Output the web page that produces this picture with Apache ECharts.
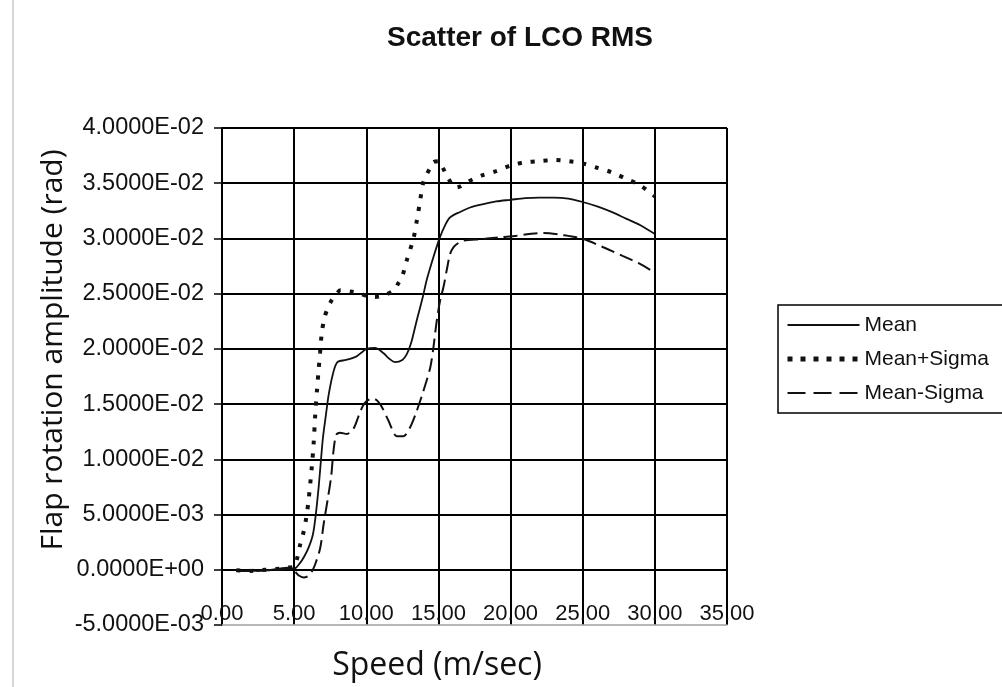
<!DOCTYPE html>
<html>
<head>
<meta charset="utf-8">
<script src="https://cdn.jsdelivr.net/npm/echarts@6/dist/echarts.min.js"></script>
<style>
  html, body { margin: 0; padding: 0; background: #fff; }
  #chart { width: 1002px; height: 687px; }
</style>
</head>
<body>
<div id="chart"></div>
<script>
// Speed (m/sec) and RMS flap rotation amplitude (rad) for each curve
const meanSpeed = [1.0, 2.0, 3.0, 4.0, 4.5, 5.0, 5.4, 5.7, 6.0, 6.3, 6.5, 6.7, 6.85, 7.0, 7.2, 7.4, 7.7, 8.0, 8.6, 9.3,
  9.7, 10.0, 10.6, 11.2, 11.6, 12.0, 12.5, 12.8, 13.1, 13.5, 13.9, 14.2, 14.65, 15.1, 15.5, 15.8, 16.5, 17.2, 18.1, 19.0,
  20, 21, 22, 23, 24, 25, 26, 27, 28, 29, 30];
const meanAmp = [-0.0001, -0.0001, -0.00005, 0.0001, 0.0002, 0.0001, 0.0006, 0.0012, 0.0020, 0.0032,
  0.0050, 0.0075, 0.0098, 0.0120, 0.0140, 0.0159, 0.0178, 0.0188, 0.0190, 0.0193,
  0.0197, 0.0200, 0.0201, 0.0196, 0.0191, 0.0188, 0.0190, 0.0195, 0.0205, 0.0226,
  0.0246, 0.0263, 0.0283, 0.0301, 0.0313, 0.0319, 0.0324, 0.0328, 0.0331, 0.03335,
  0.0335, 0.03365, 0.0337, 0.0337, 0.0336, 0.0333, 0.0329, 0.0324, 0.0318, 0.0312, 0.0304];

const plusSpeed = [1.0, 2.0, 3.0, 4.0, 4.6, 5.0, 5.2, 5.42, 5.65, 5.85, 6.0, 6.23, 6.35, 6.46, 6.58, 6.69, 6.8, 6.92, 7.1, 7.3,
  7.6, 7.9, 8.2, 8.9, 9.6, 10.0, 10.6, 11.1, 11.9, 12.2, 12.5, 12.8, 13.27, 13.5, 13.73, 13.96, 14.43, 14.65, 15.0, 15.3,
  15.7, 16.16, 16.5, 17.0, 18.0, 19.0, 20.0, 21.0, 22.0, 23.0, 24, 25, 26, 27, 28, 29, 30];
const plusAmp = [-0.00005, -0.0001, 0, 0.0001, 0.0002, 0.0003, 0.0010, 0.0023, 0.0034, 0.0048,
  0.0063, 0.0094, 0.0114, 0.0140, 0.0162, 0.0180, 0.0197, 0.0215, 0.0228, 0.0236,
  0.0244, 0.0249, 0.0253, 0.0252, 0.0250, 0.0248, 0.0247, 0.0248, 0.0253, 0.0259,
  0.0266, 0.0280, 0.0300, 0.0316, 0.0334, 0.0351, 0.0364, 0.0369, 0.0370, 0.0364,
  0.0354, 0.0346, 0.0347, 0.0351, 0.0357, 0.0361, 0.0366, 0.0369, 0.0370, 0.0371,
  0.0370, 0.0368, 0.0364, 0.0360, 0.0354, 0.0348, 0.0338];

const minusSpeed = [1.0, 2.0, 3.0, 4.0, 4.5, 5.0, 5.3, 5.65, 6.0, 6.25, 6.46, 6.81, 7.04, 7.31, 7.57, 7.73, 7.92, 8.19, 8.66, 9.12,
  9.46, 9.75, 10.04, 10.5, 10.96, 11.54, 12.12, 12.58, 13.04, 13.5, 13.96, 14.43, 14.65, 14.89, 15.12, 15.35, 15.6, 15.81, 16.04, 16.4,
  16.73, 18.12, 19.2, 20.43, 21.3, 22.27, 23.65, 25.04, 26.43, 27.8, 28.97, 30.0];
const minusAmp = [-0.0001, -0.0001, -0.00005, 0, 0.0001, -0.0001, -0.0005, -0.0007, -0.00055, -0.0001,
  0.0005, 0.0020, 0.0041, 0.00625, 0.0085, 0.0108, 0.0122, 0.0124, 0.0123, 0.0128,
  0.0139, 0.0148, 0.0153, 0.0155, 0.0150, 0.0135, 0.0121, 0.0121, 0.0129, 0.0144,
  0.0162, 0.0183, 0.0201, 0.0226, 0.0244, 0.0256, 0.0273, 0.0286, 0.0292, 0.0296,
  0.0298, 0.02995, 0.0301, 0.03025, 0.0304, 0.0305, 0.0303, 0.02995, 0.0292, 0.0284,
  0.0277, 0.0269];

const seriesNames = ['Mean', 'Mean+Sigma', 'Mean-Sigma'];

// Axis tick labels, listed from the minimum upward
const xTickLabels = ['0.00', '5.00', '10.00', '15.00', '20.00', '25.00', '30.00', '35.00'];
const yTickLabels = ['-5.0000E-03', '0.0000E+00', '5.0000E-03', '1.0000E-02', '1.5000E-02',
  '2.0000E-02', '2.5000E-02', '3.0000E-02', '3.5000E-02', '4.0000E-02'];

const pairs = (xs, ys) => xs.map((x, i) => [x, ys[i]]);

const sans = "'Liberation Sans', Arial, sans-serif";
const axisTitleFont = "'Open Sans', 'Noto Sans', sans-serif";

// Line looks shared by each curve and its legend sample
const lineLooks = [
  { color: '#111', width: 1.8, type: 'solid' },
  { color: '#111', width: 4, type: [4, 9], cap: 'butt' },
  { color: '#111', width: 2, type: [14, 6] }
];
const legendLooks = [
  { color: '#111', width: 2, type: 'solid' },
  { color: '#111', width: 5, type: [5, 8], cap: 'butt' },
  { color: '#111', width: 2, type: [18, 8] }
];

// Bottom grid row sits on the x axis, so it is drawn light grey; the rest are black
const hLineColors = yTickLabels.map((_, i) => (i === 0 ? '#b8b8b8' : '#000'));

const chart = echarts.init(document.getElementById('chart'), null, { renderer: 'canvas' });

chart.setOption({
  backgroundColor: '#fff',
  animation: false,
  title: {
    text: 'Scatter of LCO RMS',
    left: 515,
    top: 33,
    textAlign: 'center',
    textVerticalAlign: 'middle',
    textStyle: { fontFamily: sans, fontWeight: 'bold', fontSize: 28, color: '#111' }
  },
  grid: { left: 222, right: 275, top: 128, bottom: 62, containLabel: false },
  legend: {
    orient: 'vertical',
    left: 778,
    top: 305,
    data: seriesNames.map((name, i) => ({
      name,
      lineStyle: legendLooks[i],
      itemStyle: { color: 'transparent', borderColor: 'transparent', borderWidth: 0 }
    })),
    itemWidth: 72,
    itemHeight: 14,
    itemGap: 4,
    padding: [5, 60, 5, 7],
    borderColor: '#000',
    borderWidth: 1.5,
    backgroundColor: '#fff',
    textStyle: { fontFamily: sans, fontSize: 21, color: '#111', lineHeight: 30 }
  },
  xAxis: {
    type: 'value',
    min: 0,
    max: 35,
    interval: 5,
    axisLine: { show: true, onZero: false, lineStyle: { color: '#b8b8b8', width: 1.5 } },
    axisTick: { show: false },
    splitLine: { show: true, lineStyle: { color: '#000', width: 2 } },
    axisLabel: {
      inside: true,
      margin: 0,
      fontFamily: sans,
      fontSize: 22,
      color: '#111',
      formatter: (v, i) => xTickLabels[i]
    }
  },
  yAxis: {
    type: 'value',
    min: -0.005,
    max: 0.04,
    interval: 0.005,
    axisLine: { show: true, onZero: false, lineStyle: { color: '#000', width: 2 } },
    axisTick: { show: true, length: 8, lineStyle: { color: '#000', width: 1.5 } },
    splitLine: { show: true, lineStyle: { color: hLineColors, width: 2 } },
    axisLabel: {
      margin: 18,
      fontFamily: sans,
      fontSize: 23.5,
      color: '#111',
      formatter: (v, i) => yTickLabels[i]
    }
  },
  graphic: [
    {
      type: 'line',
      shape: { x1: 13, y1: 0, x2: 13, y2: 687 },
      style: { stroke: '#c8c8c8', lineWidth: 1.5 },
      silent: true
    },
    {
      type: 'text',
      x: 53,
      y: 350,
      rotation: Math.PI / 2,
      style: {
        text: 'Flap rotation amplitude (rad)',
        font: '30px ' + axisTitleFont,
        fill: '#111',
        align: 'center',
        verticalAlign: 'middle'
      }
    },
    {
      type: 'text',
      x: 437,
      y: 666,
      style: {
        text: 'Speed (m/sec)',
        font: '32px ' + axisTitleFont,
        fill: '#111',
        align: 'center',
        verticalAlign: 'middle'
      }
    }
  ],
  series: seriesNames.map((name, i) => ({
    name,
    type: 'line',
    data: [pairs(meanSpeed, meanAmp), pairs(plusSpeed, plusAmp), pairs(minusSpeed, minusAmp)][i],
    symbol: 'none',
    smooth: 0.3,
    lineStyle: lineLooks[i],
    itemStyle: { color: '#111' },
    z: 5
  }))
});
</script>
</body>
</html>
